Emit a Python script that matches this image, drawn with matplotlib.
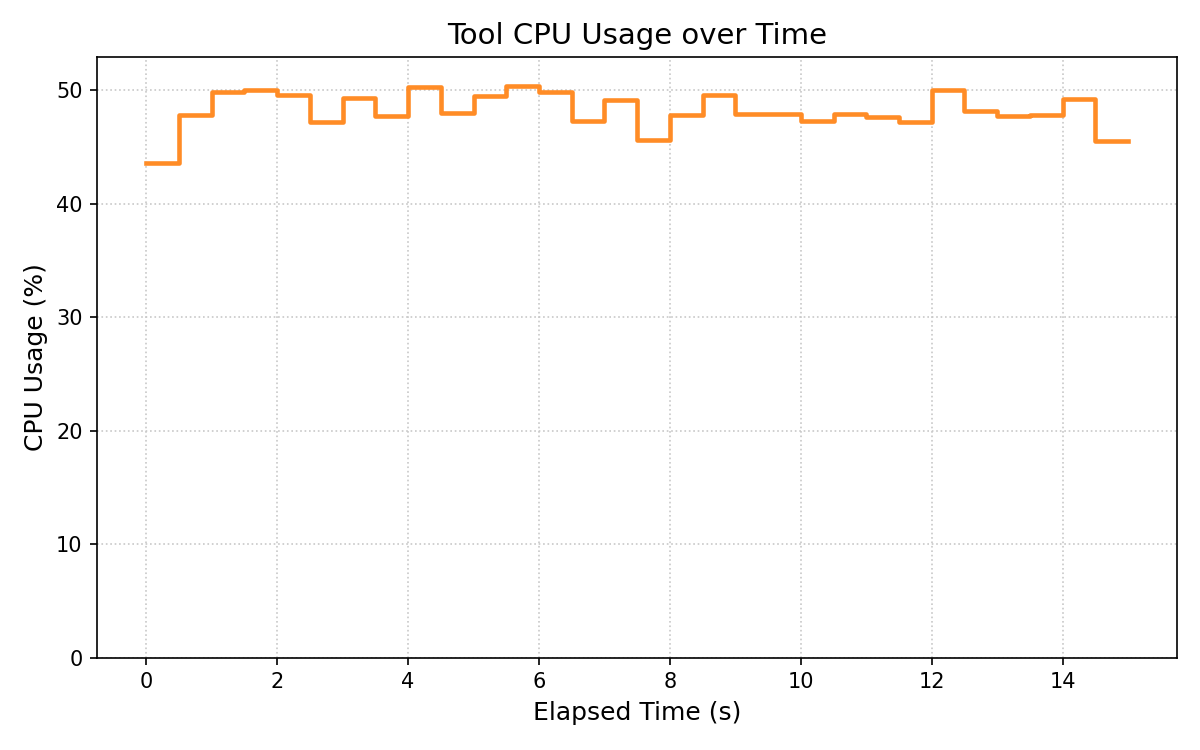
import numpy as np
import matplotlib
matplotlib.use("Agg")
import matplotlib.pyplot as plt

# elapsed time (s) and CPU usage (%) sampled every 0.5 s
elapsed = np.arange(0, 15.5, 0.5)
cpu_usage = [43.6, 47.8, 49.8, 50.0, 49.6, 47.2, 49.3, 47.7, 50.3, 48.0,
             49.5, 50.4, 49.8, 47.3, 49.15, 45.65, 47.8, 49.6, 47.9, 47.9,
             47.3, 47.9, 47.6, 47.2, 50.0, 48.2, 47.7, 47.8, 49.2, 45.5,
             45.5]

fig, ax = plt.subplots(figsize=(8, 5), dpi=150)
ax.step(elapsed, cpu_usage, where="post", color="#ff8c26", linewidth=2.2)

ax.set_title("Tool CPU Usage over Time", fontsize=14)
ax.set_xlabel("Elapsed Time (s)", fontsize=12)
ax.set_ylabel("CPU Usage (%)", fontsize=12)
ax.set_ylim(0, max(cpu_usage) * 1.05)
ax.grid(True, linestyle=":", color="#c8c8c8", linewidth=0.8)

fig.subplots_adjust(left=0.081, right=0.981, top=0.924, bottom=0.123)
fig.savefig("out.png")
